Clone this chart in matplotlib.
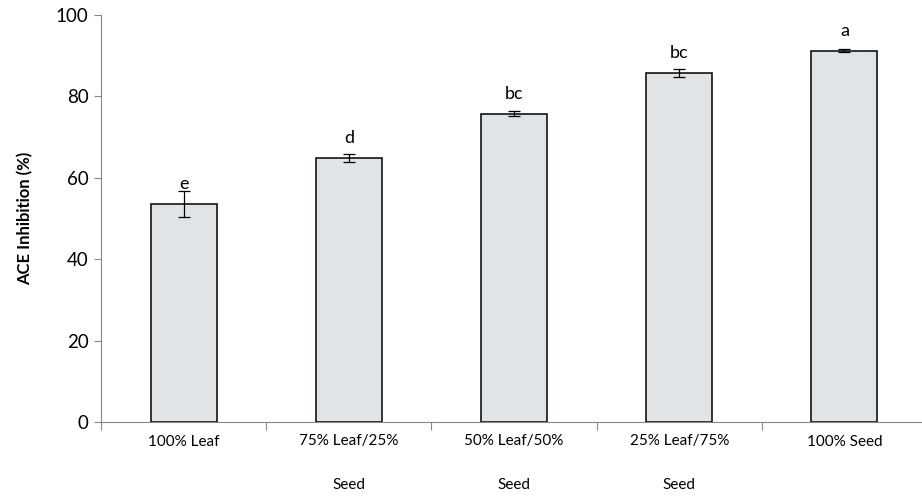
import numpy as np
import matplotlib.pyplot as plt

plt.rcParams["font.family"] = ["Lato", "DejaVu Sans"]

categories = ["100% Leaf", "75% Leaf/25%\nSeed", "50% Leaf/50%\nSeed", "25% Leaf/75%\nSeed", "100% Seed"]
inhibition = [53.6, 64.9, 75.7, 85.8, 91.2]
errors = [3.2, 1.0, 0.6, 1.0, 0.4]
letters = ["e", "d", "bc", "bc", "a"]

fig = plt.figure(figsize=(9.22, 4.97), dpi=100)
ax = fig.add_axes([101/922, 75/497, 826/922, 407/497])

x = np.arange(len(categories))
ax.bar(x, inhibition, width=0.40, color="#e1e4e6", edgecolor="black", linewidth=1.1, zorder=2)
ax.errorbar(x, inhibition, yerr=errors, fmt="none", ecolor="black", elinewidth=0.9,
            capsize=4.5, capthick=0.9, zorder=3)
for xi, v, l in zip(x, inhibition, letters):
    ax.text(xi, v + 3.7, l, ha="center", va="baseline", fontsize=13)

ax.set_xlim(-0.5, 4.5)
ax.set_ylim(0, 100)
ax.set_yticks(range(0, 101, 20))
ax.set_xticks(np.arange(-0.5, 5, 1))
ax.set_xticklabels([])
ax.set_xticks(x, minor=True)
ax.set_xticklabels(categories, minor=True, fontsize=11, linespacing=3.65)
ax.tick_params(axis="x", which="minor", length=0, pad=9)
ax.tick_params(axis="x", which="major", length=6, color="#888888")
ax.tick_params(axis="y", length=5, color="#888888", labelsize=13.5, pad=4)

for s in ["top", "right"]:
    ax.spines[s].set_visible(False)
for s in ["left", "bottom"]:
    ax.spines[s].set_color("#888888")

ax.set_ylabel("ACE Inhibition (%)", fontsize=12, fontweight="bold", labelpad=16)

fig.savefig("out.png", dpi=100)
